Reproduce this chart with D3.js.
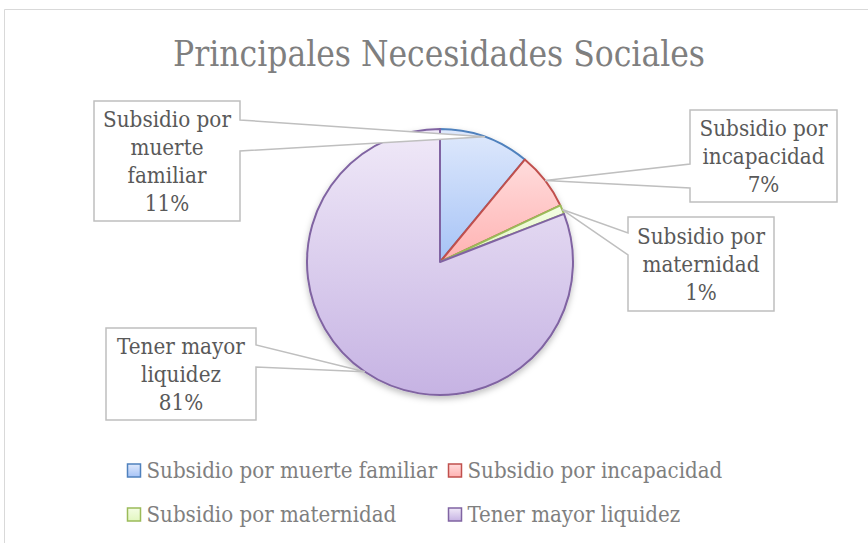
<!DOCTYPE html>
<html>
<head>
<meta charset="utf-8">
<script src="https://cdn.jsdelivr.net/npm/d3@7"></script>
<style>
  body { margin: 0; background: #fff; }
  svg { display: block; }
</style>
</head>
<body>
<div id="vis"></div>
<script>
// chart data
var categories = ["Subsidio por muerte familiar", "Subsidio por incapacidad", "Subsidio por maternidad", "Tener mayor liquidez"]
var values = [11, 7, 1.1, 80.9]
var labelLines = [["Subsidio por", "muerte", "familiar"],
                  ["Subsidio por", "incapacidad"],
                  ["Subsidio por", "maternidad"],
                  ["Tener mayor", "liquidez"]]
var title = "Principales Necesidades Sociales"

// colours: stroke, gradient top, gradient bottom
var strokes = ["#4f81bd", "#c0504d", "#9bbb59", "#8064a2"]
var gradTop = ["#dfe9fc", "#ffdcdc", "#f4fde4", "#f0e9f8"]
var gradBottom = ["#a6c3f6", "#ffb2b2", "#e2f6c0", "#c6b3e3"]

var width = 868
var height = 543
var font = "'DejaVu Serif Condensed', 'DejaVu Serif', 'Liberation Serif', serif"

// callout boxes (layout only)
var boxes = [
  {x: 94, y: 101, w: 146, h: 120, side: "right", y0: 120, y1: 151},
  {x: 690, y: 110, w: 147, h: 92, side: "left", y0: 164, y1: 188},
  {x: 628, y: 217, w: 146, h: 94, side: "left", y0: 233, y1: 255},
  {x: 106, y: 328, w: 150, h: 92, side: "right", y0: 345, y1: 367}
]

var svg = d3.select('#vis').append('svg')
  .attr('width', width)
  .attr('height', height)

// measures a string and returns font size giving the wanted width
function fitSize(text, target){
  var t = svg.append('text').style('font-family', font).style('font-size', '100px').text(text)
  var w = t.node().getComputedTextLength()
  t.remove()
  return 100 * target / w
}

var defs = svg.append('defs')
categories.forEach(function(c, i){
  var g = defs.append('linearGradient')
    .attr('id', 'grad' + i)
    .attr('x1', 0).attr('y1', 0).attr('x2', 0).attr('y2', 1)
  g.append('stop').attr('offset', '0%').attr('stop-color', gradTop[i])
  g.append('stop').attr('offset', '100%').attr('stop-color', gradBottom[i])
})
var shadow = defs.append('filter').attr('id', 'shadow')
  .attr('x', '-10%').attr('y', '-10%').attr('width', '120%').attr('height', '125%')
shadow.append('feDropShadow')
  .attr('dx', 0).attr('dy', 3).attr('stdDeviation', 3)
  .attr('flood-color', '#000').attr('flood-opacity', 0.25)

// chart area border (only left and top are inside the picture)
svg.append('path')
  .attr('d', 'M4.5,' + height + 'V9.5H' + width)
  .attr('fill', 'none')
  .attr('stroke', '#d9d9d9')
  .attr('stroke-width', 1)

// title
svg.append('text')
  .attr('x', 439)
  .attr('y', 66)
  .attr('text-anchor', 'middle')
  .style('font-family', font)
  .style('font-size', fitSize(title, 532) + 'px')
  .style('fill', '#7f7f7f')
  .text(title)

// pie
var cx = 440, cy = 262, r = 133
var total = d3.sum(values)
var pie = d3.pie().sort(null).value(function(d){ return d })
var arcs = pie(values)
var arcGen = d3.arc().innerRadius(0).outerRadius(r)
var edgeGen = d3.arc().innerRadius(r).outerRadius(r)

var pieG = svg.append('g').attr('transform', 'translate(' + cx + ',' + cy + ')')
pieG.append('g')
  .attr('filter', 'url(#shadow)')
  .selectAll('path')
  .data(arcs)
  .enter()
  .append('path')
  .attr('d', arcGen)
  .attr('fill', function(d, i){ return 'url(#grad' + i + ')' })
  .attr('stroke', function(d, i){ return strokes[i] })
  .attr('stroke-width', 2)
  .attr('stroke-linejoin', 'round')

// callout labels
var labelSize = fitSize("Subsidio por", 128)
var lineH = 28
arcs.forEach(function(d, i){
  var b = boxes[i]
  var p = edgeGen.centroid(d)
  var px = cx + p[0], py = cy + p[1]
  var path
  if(b.side == "right"){
    path = 'M' + b.x + ',' + b.y + 'H' + (b.x + b.w) + 'V' + b.y0 + 'L' + px + ',' + py +
      'L' + (b.x + b.w) + ',' + b.y1 + 'V' + (b.y + b.h) + 'H' + b.x + 'Z'
  } else {
    path = 'M' + b.x + ',' + b.y + 'H' + (b.x + b.w) + 'V' + (b.y + b.h) + 'H' + b.x +
      'V' + b.y1 + 'L' + px + ',' + py + 'L' + b.x + ',' + b.y0 + 'Z'
  }
  svg.append('path')
    .attr('d', path)
    .attr('fill', '#fff')
    .attr('stroke', '#bfbfbf')
    .attr('stroke-width', 1.5)

  var lines = labelLines[i].concat([Math.round(values[i] / total * 100) + '%'])
  var first = b.y + b.h / 2 - (lines.length - 1) / 2 * lineH + 8
  var t = svg.append('text')
    .attr('text-anchor', 'middle')
    .style('font-family', font)
    .style('font-size', labelSize + 'px')
    .style('fill', '#595959')
  lines.forEach(function(l, j){
    t.append('tspan')
      .attr('x', b.x + b.w / 2)
      .attr('y', first + j * lineH)
      .text(l)
  })
})

// legend, two columns two rows
var legX = [127.5, 448.5]
var legY = [464, 508]
var legSize = fitSize(categories[0], 291)
categories.forEach(function(c, i){
  var lx = legX[i % 2], ly = legY[Math.floor(i / 2)]
  svg.append('rect')
    .attr('x', lx).attr('y', ly)
    .attr('width', 13).attr('height', 13)
    .attr('fill', 'url(#grad' + i + ')')
    .attr('stroke', strokes[i])
    .attr('stroke-width', 1.5)
  svg.append('text')
    .attr('x', lx + 19)
    .attr('y', ly + 14)
    .style('font-family', font)
    .style('font-size', legSize + 'px')
    .style('fill', '#7f7f7f')
    .text(c)
})
</script>
</body>
</html>
